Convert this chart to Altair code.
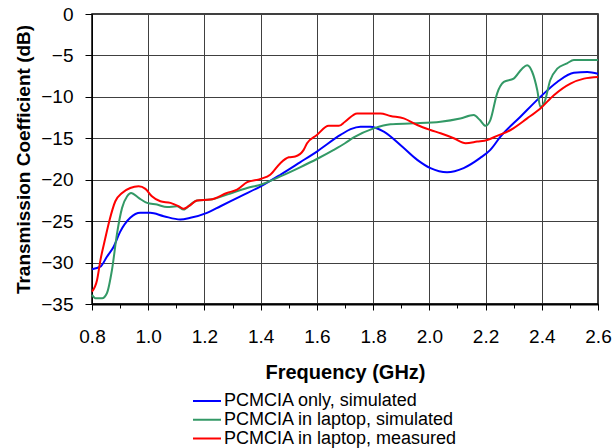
import altair as alt
import pandas as pd

blue_f = [0.80, 0.83, 0.853, 0.877, 0.90, 0.936, 0.972, 1.007, 1.055, 1.114, 1.15, 1.209, 1.257,
          1.328, 1.40, 1.47, 1.54, 1.60, 1.684, 1.72, 1.755, 1.79, 1.838, 1.90, 1.957, 2.004,
          2.063, 2.122, 2.18, 2.217, 2.253, 2.324, 2.395, 2.455, 2.514, 2.562, 2.60]
blue_db = [-30.8, -30.5, -29.3, -28.1, -26.3, -24.6, -24.0, -24.0, -24.4, -24.8, -24.6, -24.0, -23.2,
           -22.0, -20.8, -19.4, -17.9, -16.6, -14.6, -13.9, -13.6, -13.6, -14.2, -15.9, -17.6, -18.6,
           -19.1, -18.6, -17.4, -16.4, -14.8, -12.4, -10.0, -8.2, -7.1, -7.0, -7.2]

green_f = [0.80, 0.812, 0.836, 0.853, 0.871, 0.889, 0.907, 0.925, 0.939, 0.966, 0.996, 1.031, 1.067,
           1.102, 1.126, 1.15, 1.174, 1.221, 1.28, 1.352, 1.40, 1.47, 1.54, 1.60, 1.66, 1.70, 1.731,
           1.802, 1.862, 1.944, 2.04, 2.11, 2.158, 2.18, 2.20, 2.217, 2.241, 2.265, 2.30, 2.33, 2.348,
           2.366, 2.384, 2.395, 2.41, 2.43, 2.455, 2.49, 2.514, 2.60]
green_db = [-33.9, -34.3, -34.3, -33.7, -30.9, -26.5, -23.4, -22.0, -21.6, -22.2, -22.8, -23.0, -23.3,
            -23.2, -23.6, -23.0, -22.5, -22.4, -21.8, -21.0, -20.6, -19.6, -18.5, -17.5, -16.4, -15.6, -14.9,
            -13.8, -13.3, -13.2, -13.0, -12.6, -12.2, -12.8, -13.5, -12.8, -9.6, -8.2, -7.8, -6.6, -6.2,
            -7.0, -9.2, -11.2, -10.6, -8.0, -6.6, -5.95, -5.55, -5.55]

red_f = [0.80, 0.818, 0.83, 0.847, 0.863, 0.883, 0.907, 0.936, 0.966, 0.99, 1.013, 1.043, 1.079, 1.108,
         1.126, 1.144, 1.174, 1.221, 1.28, 1.316, 1.352, 1.40, 1.434, 1.47, 1.50, 1.523, 1.553, 1.565,
         1.60, 1.642, 1.678, 1.70, 1.743, 1.826, 1.862, 1.909, 1.957, 2.004, 2.04, 2.087, 2.129, 2.17,
         2.206, 2.241, 2.289, 2.348, 2.395, 2.443, 2.502, 2.55, 2.60]
red_db = [-33.5, -32.1, -29.7, -27.1, -24.8, -22.6, -21.6, -21.0, -20.8, -21.1, -22.0, -22.6, -22.8, -23.2,
          -23.5, -23.2, -22.5, -22.4, -21.6, -21.2, -20.3, -19.9, -19.4, -18.0, -17.3, -17.2, -16.4, -15.6,
          -14.6, -13.5, -13.5, -13.0, -12.0, -12.0, -12.3, -12.6, -13.4, -14.0, -14.4, -15.0, -15.6, -15.4,
          -15.2, -14.7, -14.0, -12.6, -11.4, -9.8, -8.4, -7.8, -7.6]

series = ["PCMCIA only, simulated", "PCMCIA in laptop, simulated", "PCMCIA in laptop, measured"]
colors = ["#0000FF", "#339966", "#FF0000"]

x_major = [0.8, 1.0, 1.2, 1.4, 1.6, 1.8, 2.0, 2.2, 2.4, 2.6]
x_minor = [round(0.8 + 0.1 * i, 1) for i in range(19)]
y_ticks = [0, -5, -10, -15, -20, -25, -30, -35]

rows = []
for name, fs, ds in zip(series, [blue_f, green_f, red_f], [blue_db, green_db, red_db]):
    for i, (f, d) in enumerate(zip(fs, ds)):
        rows.append({"series": name, "f": f, "db": d, "order": i})
df = pd.DataFrame(rows)

FONT = "Liberation Sans"
xs = alt.Scale(domain=[0.8, 2.6], nice=False, zero=False)
ys = alt.Scale(domain=[-35, 0], nice=False, zero=False)

y_axis = alt.Axis(values=y_ticks, format="d", title="Transmission Coefficient (dB)",
                  grid=True, gridColor="#404040", gridWidth=1, gridOpacity=1,
                  domain=True, domainColor="black", domainWidth=1,
                  ticks=True, tickColor="black", tickSize=7, tickWidth=1,
                  labelFont=FONT, labelFontSize=19, labelColor="black", labelPadding=12,
                  labelFlush=False,
                  titleFont=FONT, titleFontSize=19, titleFontWeight="bold",
                  titleColor="black", titlePadding=7)

lines = alt.Chart(df).mark_line(strokeWidth=2, interpolate="monotone").encode(
    x=alt.X("f:Q", scale=xs,
            axis=alt.Axis(values=x_major, format=".1f", title="Frequency (GHz)",
                          grid=True, gridColor="#404040", gridWidth=1, gridOpacity=1,
                          domain=True, domainColor="black", domainWidth=2,
                          ticks=True, tickColor="black", tickSize=6, tickWidth=1,
                          labelFont=FONT, labelFontSize=19, labelColor="black", labelPadding=17,
                          labelFlush=False, labelOverlap=False,
                          titleFont=FONT, titleFontSize=20, titleFontWeight="bold",
                          titleColor="black", titlePadding=16, orient="bottom")),
    y=alt.Y("db:Q", scale=ys, axis=y_axis),
    color=alt.Color("series:N", scale=alt.Scale(domain=series, range=colors), sort=series,
                    legend=alt.Legend(title=None, orient="none", legendX=100, legendY=378,
                                      symbolType="stroke", symbolSize=784, symbolStrokeWidth=2,
                                      clipHeight=18, rowPadding=0.8, padding=0,
                                      labelFont=FONT, labelFontSize=18, labelColor="black",
                                      labelOffset=2, labelLimit=400)),
    order="order:Q",
)

minor = alt.Chart(df).mark_line(opacity=0).encode(
    x=alt.X("f:Q", scale=xs,
            axis=alt.Axis(values=x_minor, labels=False, title=None, grid=False, domain=False,
                          ticks=True, tickColor="black", tickSize=4, tickWidth=1, orient="bottom")),
    y=alt.Y("db:Q", scale=ys, axis=y_axis),
    detail="series:N",
)

chart = alt.layer(lines, minor).resolve_axis(x="independent").properties(
    width=506, height=290,
    autosize=alt.AutoSizeParams(type="none"),
    padding={"left": 92, "top": 14, "right": 14, "bottom": 144},
    background="white",
).configure_view(stroke="black", strokeWidth=1.5)

chart.save("out.html", embed_options={"renderer": "svg", "actions": False})
